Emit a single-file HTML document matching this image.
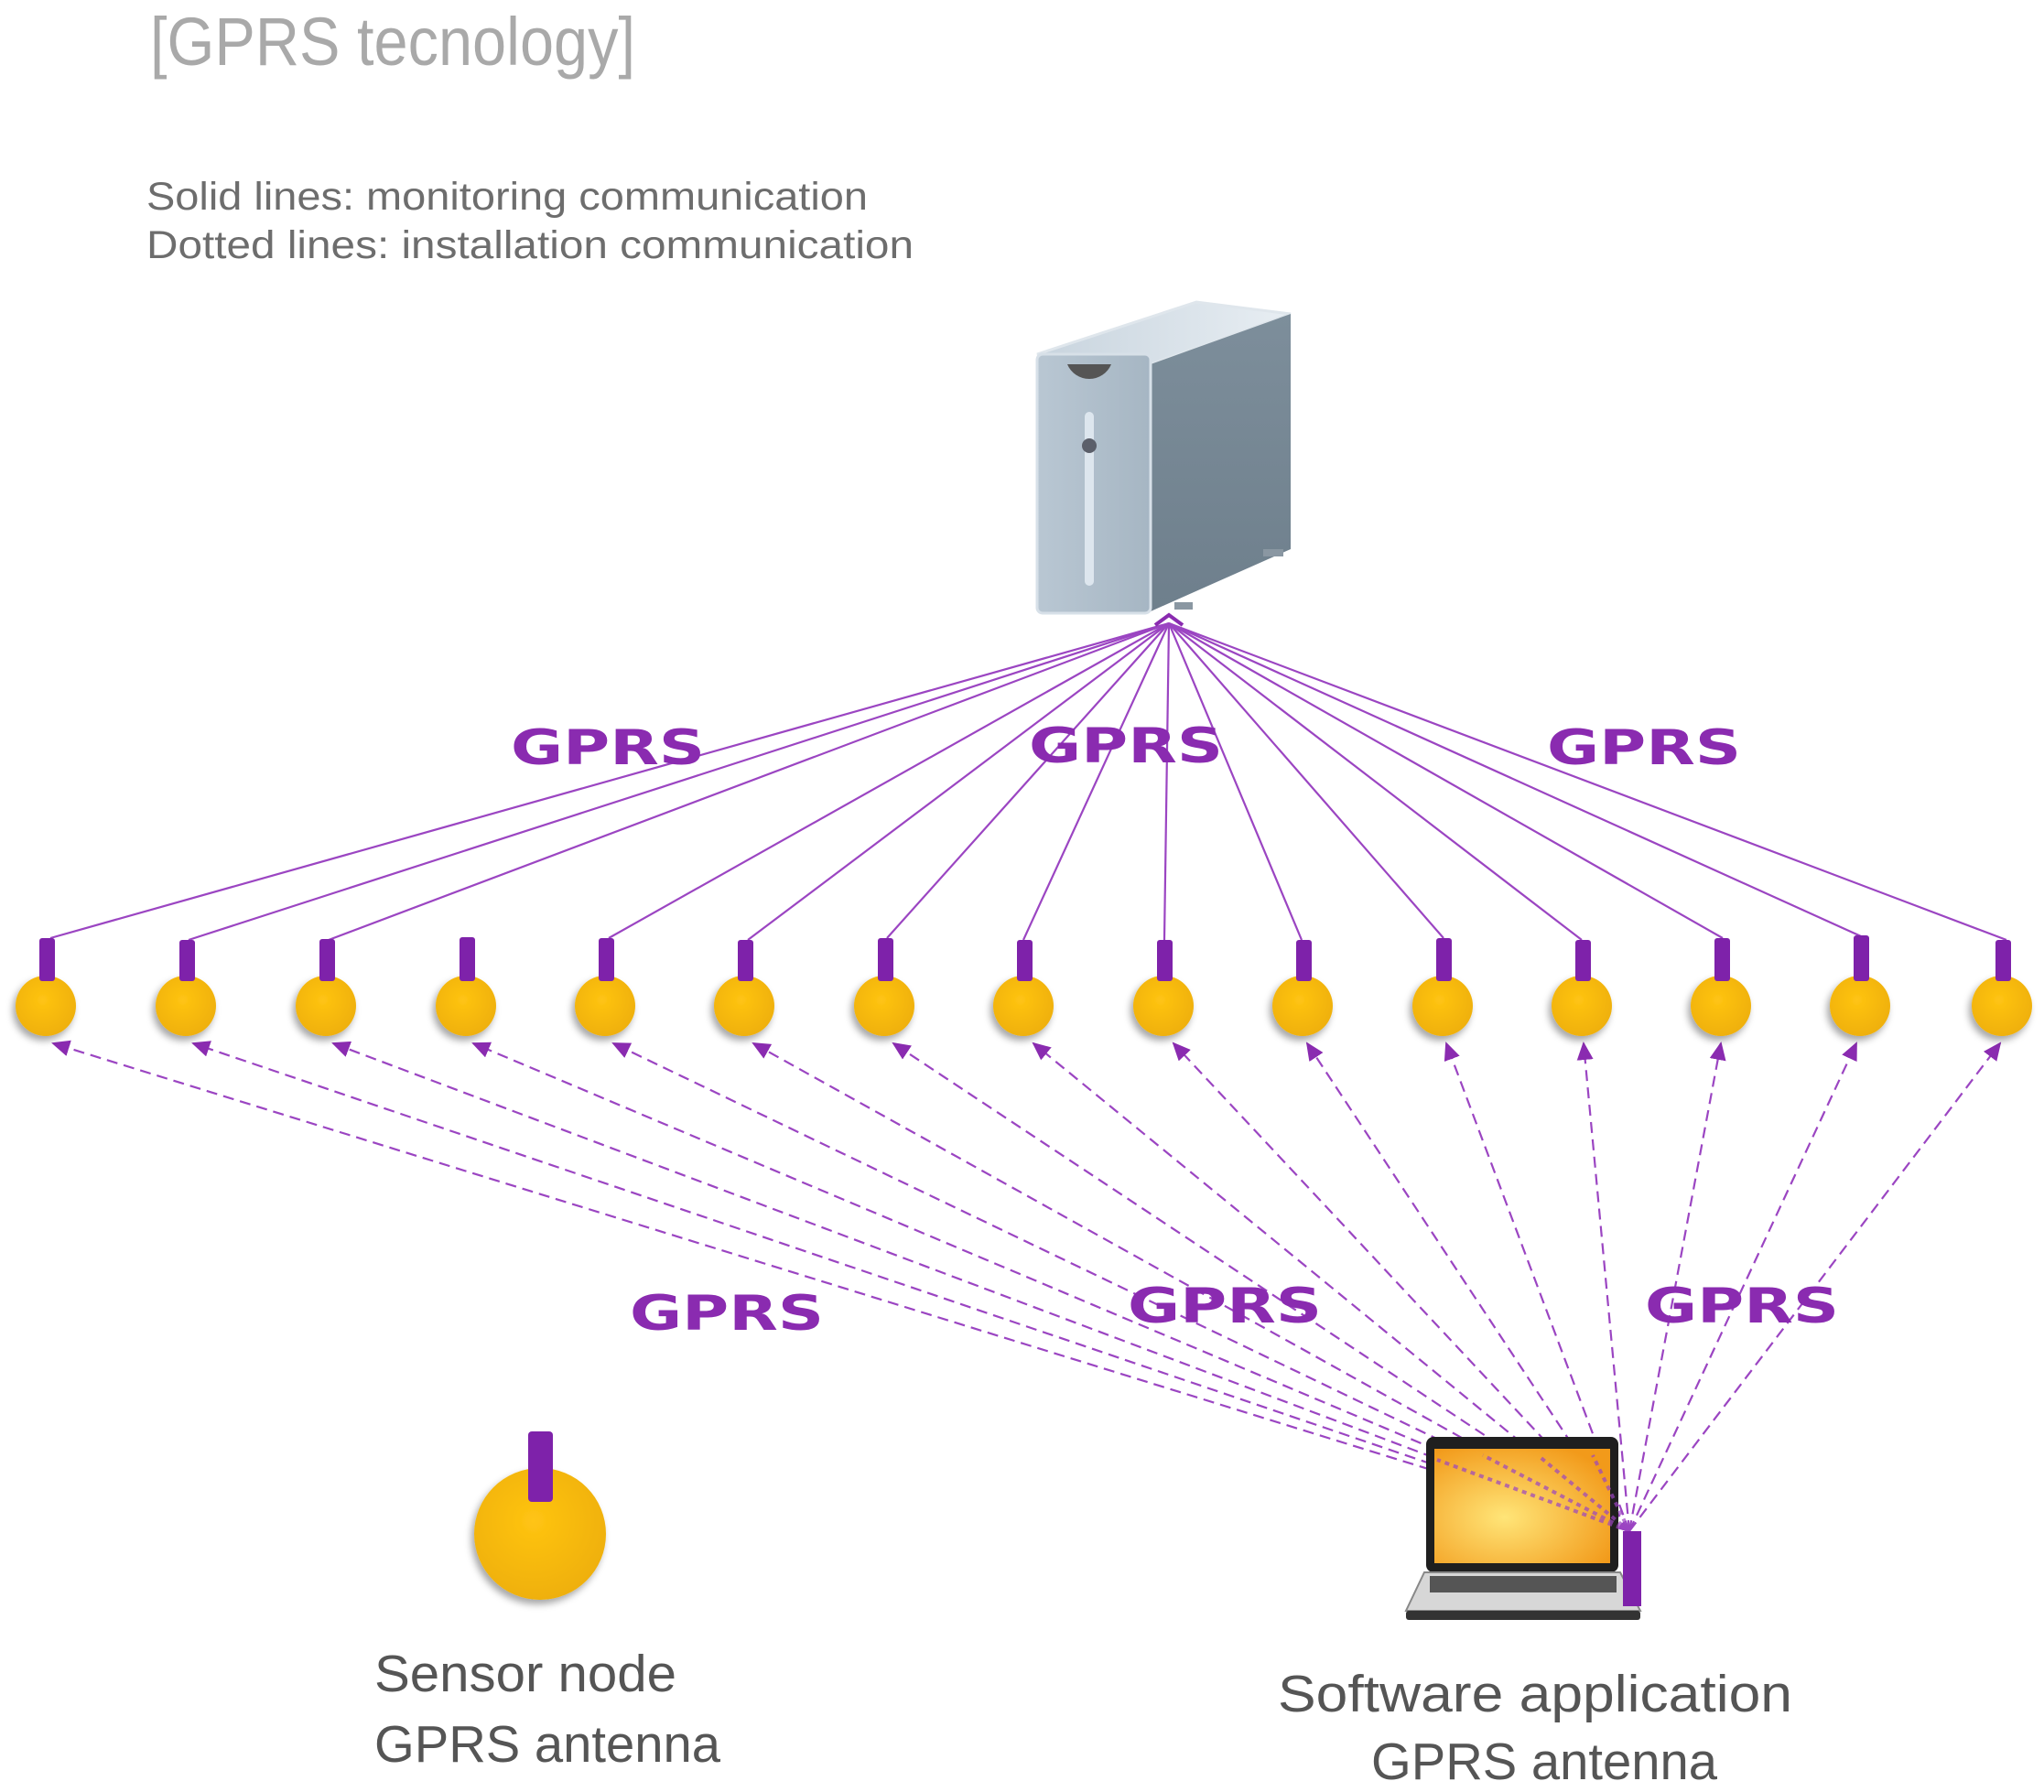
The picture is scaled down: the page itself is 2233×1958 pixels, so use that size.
<!DOCTYPE html>
<html><head><meta charset="utf-8"><style>html,body{margin:0;padding:0;background:#fff}svg{display:block}</style></head>
<body>
<svg width="2233" height="1958" viewBox="0 0 2233 1958" xmlns="http://www.w3.org/2000/svg" font-family="Liberation Sans, sans-serif">
<defs>
<linearGradient id="front" x1="0" y1="0" x2="1" y2="0"><stop offset="0" stop-color="#b9c7d3"/><stop offset="1" stop-color="#a6b6c3"/></linearGradient>
<linearGradient id="side" x1="0" y1="0" x2="0" y2="1"><stop offset="0" stop-color="#7d8e9b"/><stop offset="1" stop-color="#6e7f8c"/></linearGradient>
<linearGradient id="top" x1="0" y1="0" x2="1" y2="0"><stop offset="0" stop-color="#c8d4de"/><stop offset="1" stop-color="#e8eef3"/></linearGradient>
<radialGradient id="ball" cx="0.45" cy="0.4" r="0.6"><stop offset="0" stop-color="#ffc413"/><stop offset="1" stop-color="#efb007"/></radialGradient>
<radialGradient id="scr" cx="0.4" cy="0.6" r="0.7"><stop offset="0" stop-color="#ffe578"/><stop offset="1" stop-color="#f29a1a"/></radialGradient>
<filter id="sh" x="-50%" y="-50%" width="200%" height="200%"><feDropShadow dx="-3" dy="5" stdDeviation="4" flood-color="#000" flood-opacity="0.35"/></filter>
<marker id="ar" markerWidth="10" markerHeight="10" refX="1" refY="5" orient="auto" markerUnits="userSpaceOnUse" viewBox="0 0 10 10"><path d="M0,0 L10,5 L0,10 Z" fill="#8a2bb0" transform="rotate(180 5 5)"/></marker>
<marker id="ar2" markerWidth="20" markerHeight="18" refX="18" refY="9" orient="auto" markerUnits="userSpaceOnUse"><path d="M0,0 L20,9 L0,18 Z" fill="#8a2bb0"/></marker>
</defs>

<text x="164" y="71" font-size="74" fill="#a9a9a9" textLength="530" lengthAdjust="spacingAndGlyphs">[GPRS tecnology]</text>
<text x="160" y="229" font-size="43" fill="#6d6d6d" textLength="788" lengthAdjust="spacingAndGlyphs">Solid lines: monitoring communication</text>
<text x="160" y="282" font-size="43" fill="#6d6d6d" textLength="838" lengthAdjust="spacingAndGlyphs">Dotted lines: installation communication</text>

<!-- server -->
<g>
<polygon points="1133,387 1307,330 1410,343 1257,398" fill="url(#top)" stroke="#dfe6ec" stroke-width="3"/>
<polygon points="1257,398 1410,343 1410,600 1257,668" fill="url(#side)"/>
<rect x="1133" y="387" width="124" height="283" rx="6" fill="url(#front)" stroke="#d7e0e8" stroke-width="3"/>
<path d="M1166,398 A26,26 0 0 0 1214,398 Z" fill="#555"/>
<rect x="1185" y="450" width="10" height="190" rx="5" fill="#dde6ee"/>
<circle cx="1190" cy="487" r="8" fill="#5b5f6a"/>
<rect x1="0" x="1283" y="658" width="20" height="8" fill="#8a97a2"/>
<rect x="1380" y="600" width="22" height="8" fill="#8a97a2"/>
</g>

<!-- solid lines -->
<g stroke="#9b45c2" stroke-width="2.2" fill="none">
<line x1="1277" y1="681" x2="55" y2="1025"/>
<line x1="1277" y1="681" x2="206" y2="1027"/>
<line x1="1277" y1="681" x2="359" y2="1027"/>
<line x1="1277" y1="681" x2="665" y2="1025"/>
<line x1="1277" y1="681" x2="817" y2="1027"/>
<line x1="1277" y1="681" x2="969" y2="1025"/>
<line x1="1277" y1="681" x2="1118" y2="1027"/>
<line x1="1277" y1="681" x2="1272" y2="1027"/>
<line x1="1277" y1="681" x2="1422" y2="1027"/>
<line x1="1277" y1="681" x2="1577" y2="1025"/>
<line x1="1277" y1="681" x2="1728" y2="1027"/>
<line x1="1277" y1="681" x2="1882" y2="1025"/>
<line x1="1277" y1="681" x2="2033" y2="1023"/>
<line x1="1277" y1="681" x2="2192" y2="1027"/>
</g>
<path d="M1262,683 L1277,672 L1292,683" stroke="#8a2bb0" stroke-width="4" fill="none"/>

<!-- dashed lines -->
<g stroke="#9b45c2" stroke-width="2.2" fill="none" stroke-dasharray="12,7" marker-end="url(#ar2)">
<line x1="1780" y1="1673" x2="58" y2="1140"/>
<line x1="1780" y1="1673" x2="211" y2="1140"/>
<line x1="1780" y1="1673" x2="364" y2="1140"/>
<line x1="1780" y1="1673" x2="517" y2="1140"/>
<line x1="1780" y1="1673" x2="670" y2="1140"/>
<line x1="1780" y1="1673" x2="823" y2="1140"/>
<line x1="1780" y1="1673" x2="976" y2="1140"/>
<line x1="1780" y1="1673" x2="1129" y2="1140"/>
<line x1="1780" y1="1673" x2="1282" y2="1140"/>
<line x1="1780" y1="1673" x2="1428" y2="1140"/>
<line x1="1780" y1="1673" x2="1580" y2="1140"/>
<line x1="1780" y1="1673" x2="1730" y2="1140"/>
<line x1="1780" y1="1673" x2="1880" y2="1140"/>
<line x1="1780" y1="1673" x2="2028" y2="1140"/>
<line x1="1780" y1="1673" x2="2185" y2="1140"/>
</g>

<!-- nodes -->
<g id="nodes">
<g filter="url(#sh)">
<circle cx="50" cy="1099" r="33" fill="url(#ball)"/><circle cx="203" cy="1099" r="33" fill="url(#ball)"/>
<circle cx="356" cy="1099" r="33" fill="url(#ball)"/><circle cx="509" cy="1099" r="33" fill="url(#ball)"/>
<circle cx="661" cy="1099" r="33" fill="url(#ball)"/><circle cx="813" cy="1099" r="33" fill="url(#ball)"/>
<circle cx="966" cy="1099" r="33" fill="url(#ball)"/><circle cx="1118" cy="1099" r="33" fill="url(#ball)"/>
<circle cx="1271" cy="1099" r="33" fill="url(#ball)"/><circle cx="1423" cy="1099" r="33" fill="url(#ball)"/>
<circle cx="1576" cy="1099" r="33" fill="url(#ball)"/><circle cx="1728" cy="1099" r="33" fill="url(#ball)"/>
<circle cx="1880" cy="1099" r="33" fill="url(#ball)"/><circle cx="2032" cy="1099" r="33" fill="url(#ball)"/>
<circle cx="2187" cy="1099" r="33" fill="url(#ball)"/>
</g>
<g fill="#7e22aa">
<rect x="43" y="1025" width="17" height="47" rx="3"/><rect x="196" y="1027" width="17" height="45" rx="3"/>
<rect x="349" y="1026" width="17" height="46" rx="3"/><rect x="502" y="1024" width="17" height="48" rx="3"/>
<rect x="654" y="1025" width="17" height="47" rx="3"/><rect x="806" y="1027" width="17" height="45" rx="3"/>
<rect x="959" y="1025" width="17" height="47" rx="3"/><rect x="1111" y="1027" width="17" height="45" rx="3"/>
<rect x="1264" y="1027" width="17" height="45" rx="3"/><rect x="1416" y="1027" width="17" height="45" rx="3"/>
<rect x="1569" y="1025" width="17" height="47" rx="3"/><rect x="1721" y="1027" width="17" height="45" rx="3"/>
<rect x="1873" y="1025" width="17" height="47" rx="3"/><rect x="2025" y="1022" width="17" height="50" rx="3"/>
<rect x="2180" y="1027" width="17" height="45" rx="3"/>
</g>
</g>

<!-- GPRS labels -->
<g font-weight="bold" font-size="53" fill="#8a2bb0" font-family="DejaVu Sans, sans-serif">
<text x="558" y="835" textLength="212" lengthAdjust="spacingAndGlyphs">GPRS</text>
<text x="1124" y="833" textLength="212" lengthAdjust="spacingAndGlyphs">GPRS</text>
<text x="1690" y="835" textLength="212" lengthAdjust="spacingAndGlyphs">GPRS</text>
<text x="688" y="1453" textLength="212" lengthAdjust="spacingAndGlyphs">GPRS</text>
<text x="1232" y="1445" textLength="212" lengthAdjust="spacingAndGlyphs">GPRS</text>
<text x="1797" y="1445" textLength="212" lengthAdjust="spacingAndGlyphs">GPRS</text>
</g>

<!-- big sensor -->
<circle cx="590" cy="1676" r="72" fill="url(#ball)" filter="url(#sh)"/>
<rect x="577" y="1564" width="27" height="77" rx="4" fill="#7e22aa"/>
<text x="409" y="1848" font-size="57" fill="#555" textLength="330" lengthAdjust="spacingAndGlyphs">Sensor node</text>
<text x="409" y="1925" font-size="57" fill="#555" textLength="378" lengthAdjust="spacingAndGlyphs">GPRS antenna</text>

<!-- laptop -->
<g>
<rect x="1558" y="1570" width="210" height="148" rx="8" fill="#1f1f1f"/>
<rect x="1567" y="1583" width="192" height="125" fill="url(#scr)"/>
<path d="M1556,1718 L1770,1718 L1792,1760 L1536,1760 Z" fill="#d7d7d7" stroke="#888" stroke-width="2"/>
<rect x="1562" y="1722" width="204" height="18" fill="#555"/>
<rect x="1536" y="1760" width="256" height="10" rx="3" fill="#333"/>
</g>
<g stroke="#9b45c2" stroke-width="4" stroke-dasharray="5,5" opacity="0.7">
<line x1="1780" y1="1673" x2="1570" y2="1595"/><line x1="1780" y1="1673" x2="1620" y2="1590"/>
<line x1="1780" y1="1673" x2="1680" y2="1590"/><line x1="1780" y1="1673" x2="1740" y2="1590"/>
</g>
<rect x="1773" y="1673" width="20" height="82" fill="#7e22aa"/>
<text x="1396" y="1870" font-size="57" fill="#555" textLength="562" lengthAdjust="spacingAndGlyphs">Software application</text>
<text x="1498" y="1944" font-size="57" fill="#555" textLength="378" lengthAdjust="spacingAndGlyphs">GPRS antenna</text>
</svg>
</body></html>
